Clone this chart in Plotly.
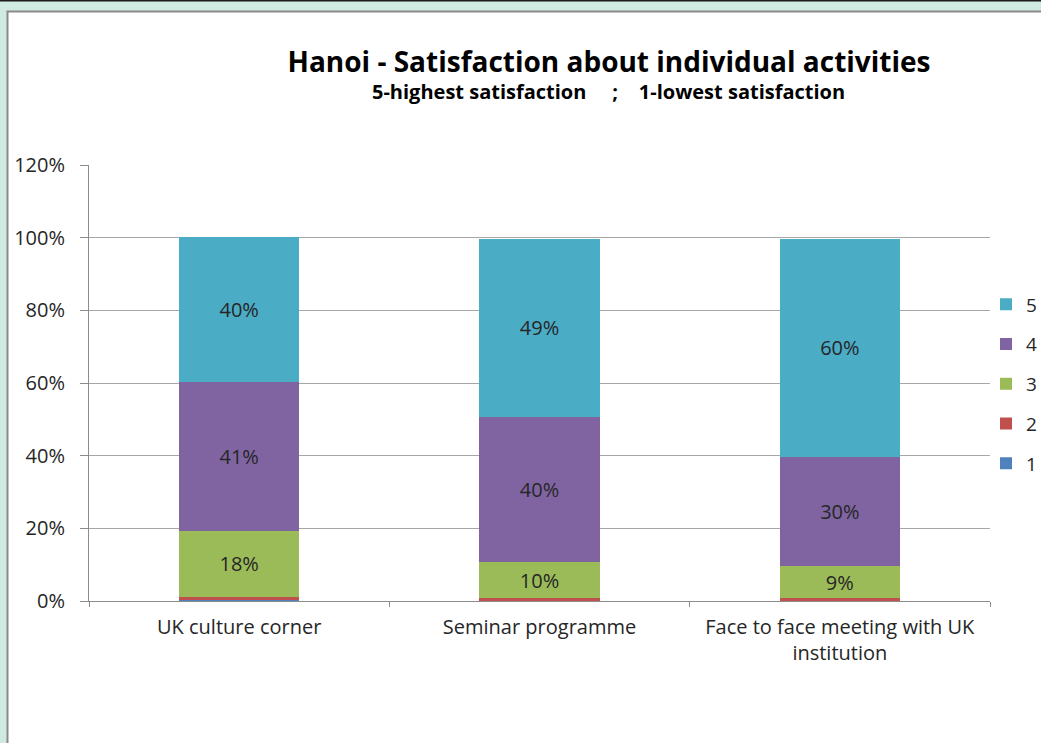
import plotly.graph_objects as go

# Survey results: share of respondents per satisfaction score (%)
categories = ["UK culture corner", "Seminar programme", "Face to face meeting with UK<br>institution"]
score_1 = [0.4, 0.0, 0.0]
score_2 = [0.8, 0.7, 0.7]
score_3 = [18, 10, 9]
score_4 = [41, 40, 30]
score_5 = [40, 49, 60]
y_ticks = [0, 20, 40, 60, 80, 100, 120]

series = [
    ("1", score_1, "#4F81BD"),
    ("2", score_2, "#C0504D"),
    ("3", score_3, "#9BBB59"),
    ("4", score_4, "#8064A2"),
    ("5", score_5, "#4BACC6"),
]

FONT = "Open Sans"
TXT = "#262626"

# pixel geometry of the plotting area
W, H = 1041, 743
L, R, T, B = 89, 990, 165, 601

fig = go.Figure()
for name, vals, color in series:
    labels = [f"{v:.0f}%" if v >= 5 else "" for v in vals]
    fig.add_trace(go.Bar(
        name=name, x=categories, y=vals, marker_color=color,
        marker_line_width=0, width=0.4,
        text=labels, textposition="inside", insidetextanchor="middle",
        textangle=0, constraintext="none",
        textfont=dict(family=FONT, size=20, color=TXT),
        legendgroup=name, legendrank=100 - int(name), hoverinfo="skip",
    ))


def px_x(p):
    return (p - L) / (R - L)


def px_y(p):
    return (B - p) / (B - T)


shapes = [
    # white chart panel with grey border inside the mint frame
    dict(type="rect", xref="paper", yref="paper", layer="below",
         x0=px_x(7.5), x1=px_x(1060), y0=px_y(760), y1=px_y(11.5),
         fillcolor="white", line=dict(color="#8a8a8a", width=2)),
    # dark rule along the top edge
    dict(type="line", xref="paper", yref="paper", layer="below",
         x0=px_x(0), x1=px_x(1041), y0=px_y(0.5), y1=px_y(0.5),
         line=dict(color="#1a1a1a", width=2)),
]

SP = "&nbsp;"
fig.update_layout(
    width=W, height=H,
    margin=dict(l=L, r=W - R, t=T, b=H - B, autoexpand=False),
    paper_bgcolor="#d0e9e1", plot_bgcolor="white",
    barmode="stack", bargap=0.6,
    font=dict(family=FONT, size=20, color=TXT),
    title=dict(text="<b>Hanoi - Satisfaction about individual activities</b>",
               x=609 / W, xanchor="center", y=1 - 62 / H, yanchor="middle",
               xref="container", yref="container",
               font=dict(family=FONT, size=28, color="#000000")),
    annotations=[dict(
        text=f"<b>5-highest satisfaction{SP * 5};{SP * 4}1-lowest satisfaction</b>",
        xref="paper", yref="paper", x=px_x(608), y=px_y(92),
        xanchor="center", yanchor="middle", showarrow=False,
        font=dict(family=FONT, size=20, color="#000000"))],
    shapes=shapes,
    showlegend=True,
    legend=dict(traceorder="grouped", xref="container", yref="container",
                x=986 / W, xanchor="left", y=1 - 384 / H, yanchor="middle",
                font=dict(family=FONT, size=19, color=TXT),
                itemwidth=30, tracegroupgap=12, bgcolor="rgba(0,0,0,0)",
                itemclick=False, itemdoubleclick=False),
    xaxis=dict(showline=True, linecolor="#8c8c8c", linewidth=1,
               ticks="outside", tickson="boundaries", ticklen=5,
               tickcolor="#8c8c8c", showgrid=False, ticklabelstandoff=8,
               tickfont=dict(family=FONT, size=20, color=TXT)),
    yaxis=dict(range=[0, 120], tickvals=y_ticks,
               ticktext=[f"{v}%" for v in y_ticks],
               showline=True, linecolor="#8c8c8c", linewidth=1,
               ticks="outside", ticklen=8, tickcolor="#8c8c8c",
               showgrid=True, gridcolor="#a6a6a6", gridwidth=1,
               zeroline=False, ticklabelstandoff=11,
               tickfont=dict(family=FONT, size=20, color=TXT)),
)

fig.write_html("out.html")
